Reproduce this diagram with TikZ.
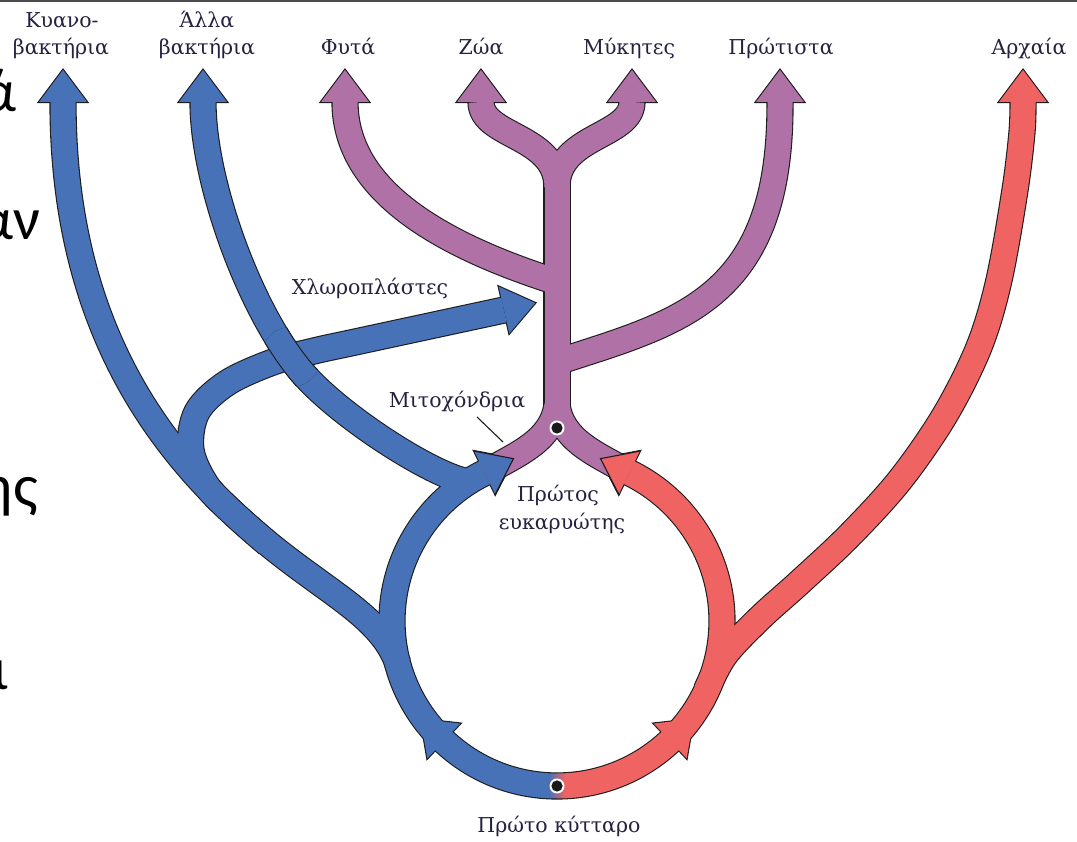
\documentclass[tikz,border=0pt]{standalone}
\usepackage{fontspec}
\setmainfont{DejaVu Serif}
\newfontfamily\bigfont{Carlito}
\definecolor{bblue}{RGB}{72,114,184}
\definecolor{bpink}{RGB}{176,113,167}
\definecolor{bred}{RGB}{239,99,99}
\definecolor{lbl}{RGB}{36,34,63}
\definecolor{edge}{RGB}{28,28,28}
\tikzset{
  ahead/.pic={\path[pic actions] (0,-24) -- (32,0) -- (0,24) -- cycle;},
  aedges/.pic={\path[pic actions] (0,24) -- (32,0) -- (0,-24);},
  hedge/.style={fill=edge, draw=edge, line width=2.2pt, line join=miter},
  band/.style={line width=25pt, line cap=butt, line join=round},
  bandedge/.style={line width=27.2pt, draw=edge, line cap=butt, line join=round},
  lab/.style={text=lbl, font=\fontsize{20.5}{26}\selectfont, inner sep=0pt, anchor=base},
  big/.style={text=black, font=\bigfont\fontsize{60}{60}\selectfont, inner sep=0pt, anchor=base east},
}
% band paths (y up, 1pt = 1px)
\newcommand\pKy{(398,178) .. controls (385,215) and (350,237) .. (305,270) .. controls (183.6,358.2) and (63,490) .. (63,740)}
\newcommand\pAl{(203,740) .. controls (203,660) and (249.2,533.8) .. (300,472) .. controls (338.1,425.6) and (442,360) .. (472,360)}
\newcommand\pCh{plot[smooth,tension=0.55] coordinates {(268,298) (233,329) (207,356) (191,392) (197,430) (227,459) (273,480) (314,491) (360,501) (504,532)}}
\newcommand\pAr{plot[smooth,tension=0.55] coordinates {(706,151) (725,187) (760,224) (800,260) (850,307) (900,362) (945,427) (979,495) (999,562) (1015,652) (1022,710) (1023,740)}}
\newcommand\pBlueRing{(557,56) arc[start angle=270,end angle=116,radius=165]}
\newcommand\pRedRing{(557,56) arc[start angle=270,end angle=424,radius=165]}
\newcommand\pStem{(557,430) -- (557,662)}
\newcommand\pZoa{(557,655) .. controls (557,707) and (481,705) .. (481,740)}
\newcommand\pMyk{(557,655) .. controls (557,707) and (632,705) .. (632,740)}
\newcommand\pFyt{(557,560) .. controls (440,597) and (345,652) .. (345,740)}
\newcommand\pPro{(557,480) .. controls (680,520) and (781,542) .. (780,740)}
\newcommand\pArmL{(484.7,369.3) .. controls (520,389) and (552,402) .. (557,437)}
\newcommand\pArmR{(629.3,369.3) .. controls (594,389) and (562,402) .. (557,437)}
\newcommand\blueheads[1]{%
  \pic[#1,rotate=90] at (63,740) {ahead};
  \pic[#1,rotate=90] at (203,740) {ahead};
  \pic[#1,rotate=12.7] at (504,532) {ahead};
  \pic[#1,rotate=26] at (484.7,369.3) {ahead};
  \pic[#1,rotate=136.7] at (443.8,101) {ahead};}
\newcommand\pinkheads[1]{%
  \pic[#1,rotate=90] at (345,740) {ahead};
  \pic[#1,rotate=90] at (481,740) {ahead};
  \pic[#1,rotate=90] at (632,740) {ahead};
  \pic[#1,rotate=90] at (780,740) {ahead};}
\newcommand\redheads[1]{%
  \pic[#1,rotate=90] at (1023,740) {ahead};
  \pic[#1,rotate=154] at (629.3,369.3) {ahead};
  \pic[#1,rotate=43.3] at (670.2,101) {ahead};}
\begin{document}
\begin{tikzpicture}[x=1pt,y=1pt]
\useasboundingbox (0,0) rectangle (1077,842);
\clip (0,0) rectangle (1077,842);
\fill[white] (0,0) rectangle (1077,842);
\fill[black!70] (0,839.5) rectangle (1077,842);
% ---------- pass 1: outlines
\foreach \p in {\pKy,\pAl,\pCh,\pAr,\pBlueRing,\pRedRing,\pStem,\pZoa,\pMyk,\pFyt,\pPro,\pArmL,\pArmR}{\draw[bandedge] \p;}
\blueheads{hedge}
\pinkheads{hedge}
\redheads{hedge}
% ---------- pass 2: fills
\foreach \p in {\pStem,\pZoa,\pMyk,\pFyt,\pPro,\pArmL,\pArmR}{\draw[band,bpink] \p;}
\pinkheads{fill=bpink}
\foreach \p in {\pBlueRing,\pKy,\pCh,\pAl}{\draw[band,bblue] \p;}
\blueheads{fill=bblue}
\foreach \p in {\pRedRing,\pAr}{\draw[band,bred] \p;}
\redheads{fill=bred}
% ---------- crossing: Alla over chloroplast
\begin{scope}
  \clip (291,485) circle (30);
  \draw[bandedge] \pAl;
  \draw[band,bblue] \pAl;
\end{scope}
% edges of the two arrowheads that meet the eukaryote
\pic[draw=edge,line width=1.1pt,rotate=26] at (484.7,369.3) {aedges};
\pic[draw=edge,line width=1.1pt,rotate=154] at (629.3,369.3) {aedges};
% blue to red blend at the first cell
\begin{scope}[even odd rule]
  \clip (557,221) circle (176.8) (557,221) circle (153.2);
  \shade[left color=bblue, right color=bred] (549,30) rectangle (565,82);
\end{scope}
% dots
\fill[white] (557,414) circle (7.5);
\fill[black!90] (557,414) circle (5.6);
\fill[white] (557,56) circle (7.5);
\fill[black!90] (557,56) circle (5.6);
% leader line
\coordinate (mitoA) at (477,425);
\coordinate (mitoB) at (503,400);
\draw[edge,line width=1.1pt] (mitoA) -- (mitoB);
% labels
\node[lab] (kyano1) at (62,814) {Κυανο-};
\node[lab] (kyano2) at (61,787) {βακτήρια};
\node[lab] (alla1) at (207,814) {Άλλα};
\node[lab] (alla2) at (207,787) {βακτήρια};
\node[lab] (fyta) at (348,787) {Φυτά};
\node[lab] (zoa) at (481,787) {Ζώα};
\node[lab] (myk) at (629,787) {Μύκητες};
\node[lab] (prot) at (781,787) {Πρώτιστα};
\node[lab] (arch) at (1029,787) {Αρχαία};
\node[lab] (chlo) at (370,547) {Χλωροπλάστες};
\node[lab] (mito) at (457,434) {Μιτοχόνδρια};
\node[lab] (euk1) at (558,340) {Πρώτος};
\node[lab] (euk2) at (562,312) {ευκαρυώτης};
\node[lab] (cell) at (559,9) {Πρώτο κύτταρο};
% cut-off slide text at the left edge
\node[big] (sA) at (17,730) {ά};
\node[big] (sB) at (41,602) {αν};
\node[big] (sC) at (38,335) {ής};
\node[big] (sD) at (9,152) {ι};
\end{tikzpicture}
\end{document}
